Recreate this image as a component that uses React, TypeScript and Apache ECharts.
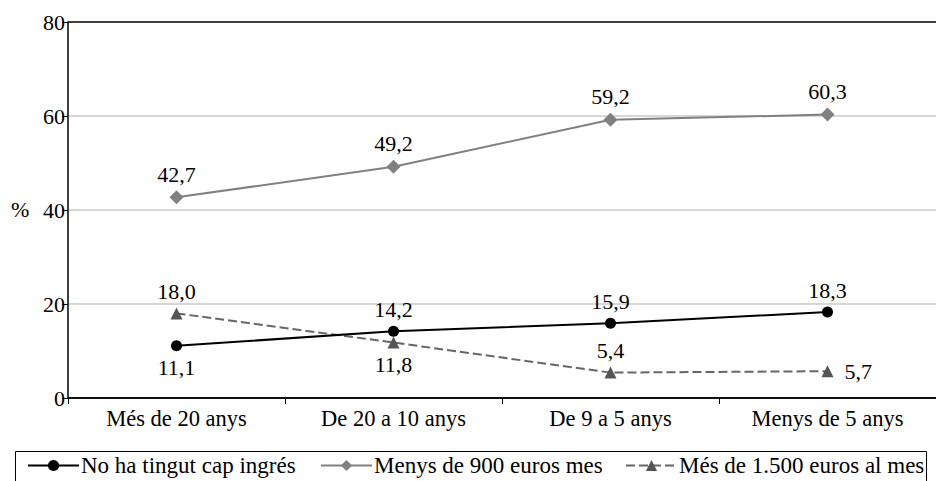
import React, { useEffect, useRef } from "react";
import * as echarts from "echarts";

const categories = ["Més de 20 anys", "De 20 a 10 anys", "De 9 a 5 anys", "Menys de 5 anys"];
const seriesNames = ["No ha tingut cap ingrés", "Menys de 900 euros mes", "Més de 1.500 euros al mes"];
const noIncome = [11.1, 14.2, 15.9, 18.3];
const under900 = [42.7, 49.2, 59.2, 60.3];
const over1500 = [18.0, 11.8, 5.4, 5.7];
const noIncomeLabelPos = ["bottom", "top", "top", "top"];
const under900LabelPos = ["top", "top", "top", "top"];
const over1500LabelPos = ["top", "bottom", "top", "right"];

const FONT = "'Liberation Serif', 'Times New Roman', serif";
const FS = 22;
const FS_CAT = 22.5;
const FS_LEG = 23;
const fmt = (v: number) => v.toFixed(1).replace(".", ",");

function withLabels(values: number[], positions: string[]) {
  return values.map((v, i) => ({
    value: v,
    label: { position: positions[i], distance: positions[i] === "right" ? 11 : 5 },
  }));
}

// one legend block per series so each entry sits at its own x
function legendItem(name: string, left: number) {
  return {
    data: [name],
    left,
    top: 449,
    padding: 5,
    itemWidth: 51,
    itemHeight: 14,
    textStyle: { color: "#000", fontFamily: FONT, fontSize: FS_LEG, padding: [0, 0, 0, -3] },
  };
}

export default function App() {
  const ref = useRef<HTMLDivElement>(null);

  useEffect(() => {
    if (!ref.current) return;
    const chart = echarts.init(ref.current, null, { renderer: "svg" });
    const labelBase = {
      show: true,
      color: "#000",
      fontFamily: FONT,
      fontSize: FS,
      distance: 5,
      formatter: (p: any) => fmt(p.value),
    };
    chart.setOption({
      animation: false,
      backgroundColor: "#fff",
      textStyle: { fontFamily: FONT, color: "#000" },
      grid: { left: 68, top: 22, bottom: 83, width: 877, containLabel: false },
      xAxis: {
        type: "category",
        data: categories,
        boundaryGap: true,
        axisLine: { lineStyle: { color: "#000", width: 1.5 } },
        axisTick: { show: true, length: 6, inside: false, lineStyle: { color: "#000" } },
        axisLabel: { color: "#000", fontFamily: FONT, fontSize: FS_CAT, margin: 9 },
        splitLine: { show: false },
      },
      yAxis: {
        type: "value",
        min: 0,
        max: 80,
        interval: 20,
        axisLine: { show: true, lineStyle: { color: "#000", width: 1.5 } },
        axisTick: { show: true, length: 6, lineStyle: { color: "#000" } },
        axisLabel: { color: "#000", fontFamily: FONT, fontSize: FS, margin: 3 },
        splitLine: {
          show: true,
          lineStyle: { color: ["#000", "#c8c8c8", "#c8c8c8", "#c8c8c8", "#000"], width: 1.5 },
        },
      },
      legend: [
        legendItem(seriesNames[0], 22),
        legendItem(seriesNames[1], 315),
        legendItem(seriesNames[2], 620),
      ],
      graphic: [
        {
          type: "rect",
          shape: { x: 15.5, y: 451.5, width: 911, height: 40 },
          style: { fill: "none", stroke: "#000", lineWidth: 1 },
          silent: true,
        },
        {
          type: "text",
          left: 11,
          top: 198,
          style: { text: "%", fill: "#000", fontFamily: FONT, fontSize: FS },
        },
      ],
      series: [
        {
          name: seriesNames[0],
          type: "line",
          data: withLabels(noIncome, noIncomeLabelPos),
          symbol: "circle",
          symbolSize: 11,
          itemStyle: { color: "#000" },
          lineStyle: { color: "#000", width: 2 },
          label: labelBase,
          z: 4,
        },
        {
          name: seriesNames[1],
          type: "line",
          data: withLabels(under900, under900LabelPos),
          symbol: "diamond",
          symbolSize: 14,
          itemStyle: { color: "#808080" },
          lineStyle: { color: "#808080", width: 2 },
          label: labelBase,
          z: 3,
        },
        {
          name: seriesNames[2],
          type: "line",
          data: withLabels(over1500, over1500LabelPos),
          symbol: "triangle",
          symbolSize: 12,
          itemStyle: { color: "#555" },
          lineStyle: { color: "#666", width: 2, type: [9, 4] },
          label: labelBase,
          z: 3,
        },
      ],
    });
    return () => chart.dispose();
  }, []);

  return <div ref={ref} style={{ width: 936, height: 481, position: "absolute", left: 0, top: 0 }} />;
}
